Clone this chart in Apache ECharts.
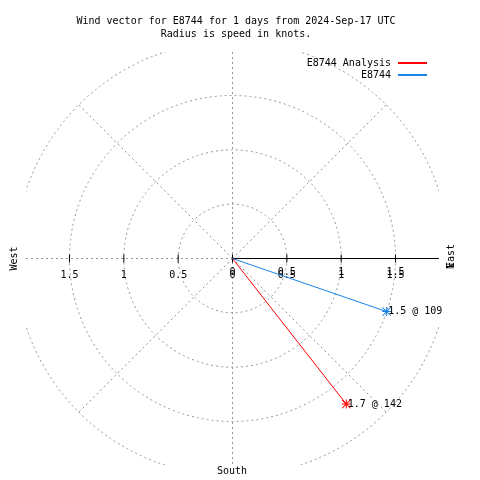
<!DOCTYPE html>
<html><head><meta charset="utf-8">
<script src="https://cdn.jsdelivr.net/npm/echarts@6/dist/echarts.min.js"></script>
<style>html,body{margin:0;padding:0;background:#fff}#c{width:480px;height:480px}</style>
</head><body><div id="c"></div>
<script>
// ---- data ----
const titleLines = ['Wind vector for E8744 for 1 days from 2024-Sep-17 UTC', 'Radius is speed in knots.'];
const seriesNames = ['E8744 Analysis', 'E8744'];
const speeds = [1.7, 1.5];          // knots
const directions = [142, 109];      // degrees, clockwise from north
const ringValues = [0.5, 1, 1.5, 2];
const spokeAngles = [45, 135, 225, 315];
const tickValues = [-1.5, -1, -0.5, 0, 0.5, 1, 1.5];
const axisExtent = 1.9;

// ---- styles ----
const seriesColors = ['#ff0000', '#1a82e8'];
const FONT = '10px "DejaVu Sans Mono", "Liberation Mono", monospace';
const GRIDGRAY = '#969696';
const DASH = [2, 3];

const chart = echarts.init(document.getElementById('c'), null, {renderer: 'canvas'});

const rad = d => d * Math.PI / 180;
const toXY = (s, d) => [s * Math.sin(rad(d)), s * Math.cos(rad(d))];

const STAR = 'path://M0,8 H18 V10 H0 Z M8,0 H10 V18 H8 Z M0,1.4 L1.4,0 L18,16.6 L16.6,18 Z M16.6,0 L18,1.4 L1.4,18 L0,16.6 Z';

function gridRender(params, api) {
  const c = api.coord([0, 0]);
  const children = [];
  ringValues.forEach(r => {
    const s = api.size([r, r]);
    children.push({type: 'circle', shape: {cx: c[0], cy: c[1], r: s[0]},
      style: {fill: 'none', stroke: GRIDGRAY, lineWidth: 1, lineDash: DASH}});
  });
  const rMax = ringValues[ringValues.length - 1];
  spokeAngles.forEach(a => {
    const p = api.coord(toXY(rMax, a));
    children.push({type: 'line', shape: {x1: c[0], y1: c[1], x2: p[0], y2: p[1]},
      style: {stroke: GRIDGRAY, lineWidth: 1, lineDash: DASH}});
  });
  const top = api.coord([0, axisExtent]), bot = api.coord([0, -axisExtent]);
  children.push({type: 'line', shape: {x1: c[0], y1: top[1], x2: c[0], y2: bot[1]},
    style: {stroke: GRIDGRAY, lineWidth: 1, lineDash: DASH}});
  const left = api.coord([-axisExtent, 0]);
  children.push({type: 'line', shape: {x1: left[0], y1: c[1], x2: c[0], y2: c[1]},
    style: {stroke: GRIDGRAY, lineWidth: 1, lineDash: DASH}});
  return {type: 'group', children};
}

function axisRender(params, api) {
  const c = api.coord([0, 0]);
  const right = api.coord([axisExtent, 0]);
  const children = [];
  children.push({type: 'line', shape: {x1: c[0], y1: c[1], x2: right[0], y2: c[1]},
    style: {stroke: '#000', lineWidth: 1}});
  tickValues.forEach(v => {
    const p = api.coord([v, 0]);
    children.push({type: 'line', shape: {x1: p[0], y1: c[1] - 4, x2: p[0], y2: c[1] + 4},
      style: {stroke: '#000', lineWidth: 1}});
    children.push({type: 'text', style: {text: String(Math.abs(v)), x: p[0], y: c[1] + 17,
      align: 'center', verticalAlign: 'middle', font: FONT, fill: '#000'}});
    if (v >= 0) {
      children.push({type: 'text', style: {text: String(Math.abs(v)), x: p[0], y: c[1] + 14,
        align: 'center', verticalAlign: 'middle', font: FONT, fill: '#000'}});
    }
  });
  return {type: 'group', children};
}

const vectorSeries = seriesNames.map((name, i) => {
  const end = toXY(speeds[i], directions[i]);
  return {
    name, type: 'line', color: seriesColors[i],
    lineStyle: {color: seriesColors[i], width: 1},
    itemStyle: {color: seriesColors[i]},
    symbol: STAR, symbolSize: 9, showSymbol: true, z: 5,
    label: {show: true, position: 'right', distance: -3, color: '#000', fontFamily: '"DejaVu Sans Mono", monospace', fontSize: 10,
      formatter: () => speeds[i] + ' @ ' + directions[i]},
    data: [{value: [0, 0], symbol: 'none', label: {show: false}}, {value: end}]
  };
});

chart.setOption({
  animation: false,
  backgroundColor: '#fff',
  title: [
    {text: titleLines[0], left: 231, top: 11, textAlign: 'center',
     textStyle: {fontFamily: '"DejaVu Sans Mono", monospace', fontSize: 10, fontWeight: 'normal', color: '#000'}},
    {text: titleLines[1], left: 231, top: 24, textAlign: 'center',
     textStyle: {fontFamily: '"DejaVu Sans Mono", monospace', fontSize: 10, fontWeight: 'normal', color: '#000'}}
  ],
  legend: {
    data: seriesNames, orient: 'vertical', right: 53, top: 58, align: 'right',
    icon: 'rect', itemWidth: 29, itemHeight: 2, itemGap: 2, padding: 0,
    textStyle: {fontFamily: '"DejaVu Sans Mono", monospace', fontSize: 10, color: '#000', padding: [0, 2, 0, 0]}
  },
  grid: {left: 26, top: 52, width: 413, height: 413},
  xAxis: {type: 'value', min: -axisExtent, max: axisExtent, show: false},
  yAxis: {type: 'value', min: -axisExtent, max: axisExtent, show: false},
  graphic: [
    {type: 'text', x: 14, y: 258.5, rotation: Math.PI / 2,
     style: {text: 'West', font: FONT, fill: '#000', align: 'center', verticalAlign: 'middle'}},
    {type: 'text', x: 451, y: 256, rotation: Math.PI / 2,
     style: {text: 'East', font: FONT, fill: '#000', align: 'center', verticalAlign: 'middle'}},
    {type: 'text', x: 451, y: 266, rotation: Math.PI / 2,
     style: {text: 'N', font: FONT, fill: '#000', align: 'center', verticalAlign: 'middle'}},
    {type: 'text', x: 232, y: 471, 
     style: {text: 'South', font: FONT, fill: '#000', align: 'center', verticalAlign: 'middle'}}
  ],
  series: [
    {type: 'custom', name: 'polar-grid', clip: true, silent: true, z: 1, data: [[0, 0]], renderItem: gridRender},
    {type: 'custom', name: 'polar-axis', clip: false, silent: true, z: 3, data: [[0, 0]], renderItem: axisRender}
  ].concat(vectorSeries)
});
</script>
</body></html>
